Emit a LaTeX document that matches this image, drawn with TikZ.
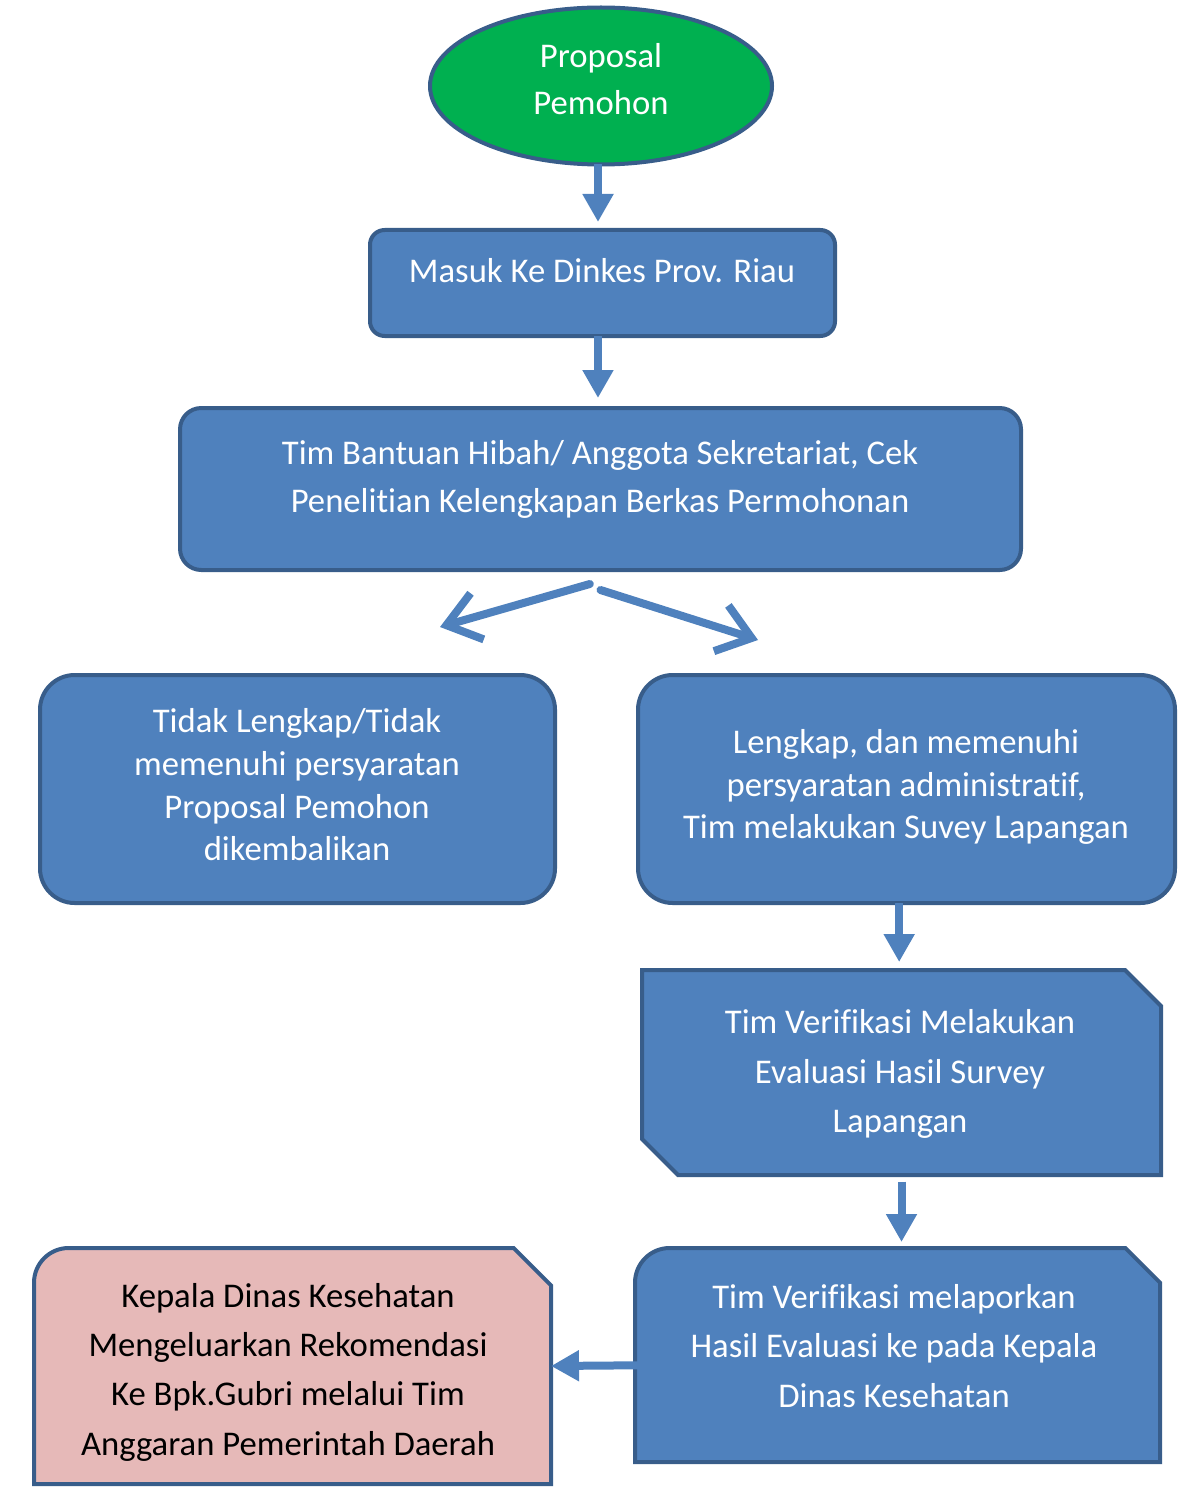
\documentclass[tikz,border=0pt]{standalone}
\usepackage{fontspec}
\setmainfont{Carlito}[Ligatures=NoCommon]
\usetikzlibrary{arrows.meta,shapes.geometric}
\definecolor{boxblue}{HTML}{4F81BD}
\definecolor{edgeblue}{HTML}{385D8A}
\definecolor{leafgreen}{HTML}{00B050}
\definecolor{rosefill}{HTML}{E6B9B8}
\tikzset{
	frame/.style={inner sep=0pt,outer sep=0pt},
	shell/.style={draw=edgeblue,line width=3pt,fill=boxblue},
	panel/.style={frame,shell,rounded corners=#1},
	panel/.default=26pt,
	lbl/.style={text=white,align=center,inner sep=0pt,font=\fontsize{26}{#1}\selectfont},
	lbl/.default=36pt,
	flow/.style={draw=boxblue,line width=6pt,-{Triangle[length=21pt,width=22pt]}},
	fork/.style={draw=boxblue,line width=6pt,line cap=round,line join=round,-{Straight Barb[length=24pt,width=36pt]}}
}
\begin{document}
\begin{tikzpicture}[x=0.75pt,y=-0.75pt]
	\useasboundingbox (0,0) rectangle (1194,1498);
	\node[frame,ellipse,shell,fill=leafgreen,minimum width=256.5pt,minimum height=117.75pt] (proposal) at (601,86) {};
	\node[lbl=35pt] (proposalT) at (601,79) {Proposal\\Pemohon};
	\node[panel=11pt,minimum width=348.75pt,minimum height=79.5pt] (masuk) at (602.5,283) {};
	\node[lbl] (masukT) at (602,271) {Masuk Ke Dinkes Prov. Riau};
	\node[panel=16pt,minimum width=630.75pt,minimum height=121.5pt] (bantuan) at (600.5,489) {};
	\node[lbl] (bantuanT) at (600,479) {Tim Bantuan Hibah/ Anggota Sekretariat, Cek\\Penelitian Kelengkapan Berkas Permohonan};
	\node[panel,minimum width=386.25pt,minimum height=171pt] (tidak) at (297.5,789) {};
	\node[lbl=32pt] (tidakT) at (297,785) {Tidak Lengkap/Tidak\\memenuhi persyaratan\\Proposal Pemohon\\dikembalikan};
	\node[panel,minimum width=402.75pt,minimum height=171pt] (lengkap) at (906.5,789) {};
	\node[lbl=32pt] (lengkapT) at (906,787) {Lengkap, dan memenuhi\\persyaratan administratif,\\Tim melakukan Suvey Lapangan};
	\node[frame,minimum width=389.25pt,minimum height=153.75pt] (verif) at (901.5,1072.5) {};
	\draw[shell] (verif.north west) -- ([xshift=-27pt]verif.north east) -- ([yshift=-27pt]verif.north east) -- (verif.south east) -- ([xshift=27pt]verif.south west) -- ([yshift=27pt]verif.south west) -- cycle;
	\node[lbl=37pt] (verifT) at (900,1074) {Tim Verifikasi Melakukan\\Evaluasi Hasil Survey\\Lapangan};
	\node[frame,minimum width=393.75pt,minimum height=160.5pt] (lapor) at (897.5,1355) {};
	\draw[shell] (lapor.south west) -- ([yshift=-26pt]lapor.north west) arc[start angle=180,end angle=90,radius=26pt] -- ([xshift=-26pt]lapor.north east) -- ([yshift=-26pt]lapor.north east) -- (lapor.south east) -- cycle;
	\node[lbl=37pt] (laporT) at (894,1346) {Tim Verifikasi melaporkan\\Hasil Evaluasi ke pada Kepala\\Dinas Kesehatan};
	\node[frame,minimum width=387.75pt,minimum height=177pt] (kepala) at (292.5,1366) {};
	\draw[shell,fill=rosefill] (kepala.south west) -- ([yshift=-26pt]kepala.north west) arc[start angle=180,end angle=90,radius=26pt] -- ([xshift=-28pt]kepala.north east) -- ([yshift=-28pt]kepala.north east) -- (kepala.south east) -- cycle;
	\node[lbl=37pt,text=black] (kepalaT) at (288,1372) {Kepala Dinas Kesehatan\\Mengeluarkan Rekomendasi\\Ke Bpk.Gubri melalui Tim\\Anggaran Pemerintah Daerah};
	\coordinate (noTip) at (440,627);
	\coordinate (yesTip) at (758,640);
	\coordinate (laporTail) at (672,1365);
	\draw[flow,shorten >=6pt] ([xshift=-2.25pt]proposal.south) -- ([xshift=-2.25pt]proposal.south |- masuk.north);
	\draw[flow,shorten >=7.5pt] ([xshift=-3.4pt]masuk.south) -- ([xshift=-3.4pt]masuk.south |- bantuan.north);
	\draw[fork] ([shift={(-8pt,-10.5pt)}]bantuan.south) -- (noTip);
	\draw[fork] ([yshift=-15pt]bantuan.south) -- (yesTip);
	\draw[flow,shorten >=6pt] ([xshift=-5.5pt]lengkap.south) -- ([xshift=-5.5pt]lengkap.south |- verif.north);
	\draw[flow,shorten <=5pt,shorten >=4.5pt] (verif.south) -- (verif.south |- lapor.north);
	\draw[flow] (laporTail) -- (kepala.east);
\end{tikzpicture}
\end{document}
